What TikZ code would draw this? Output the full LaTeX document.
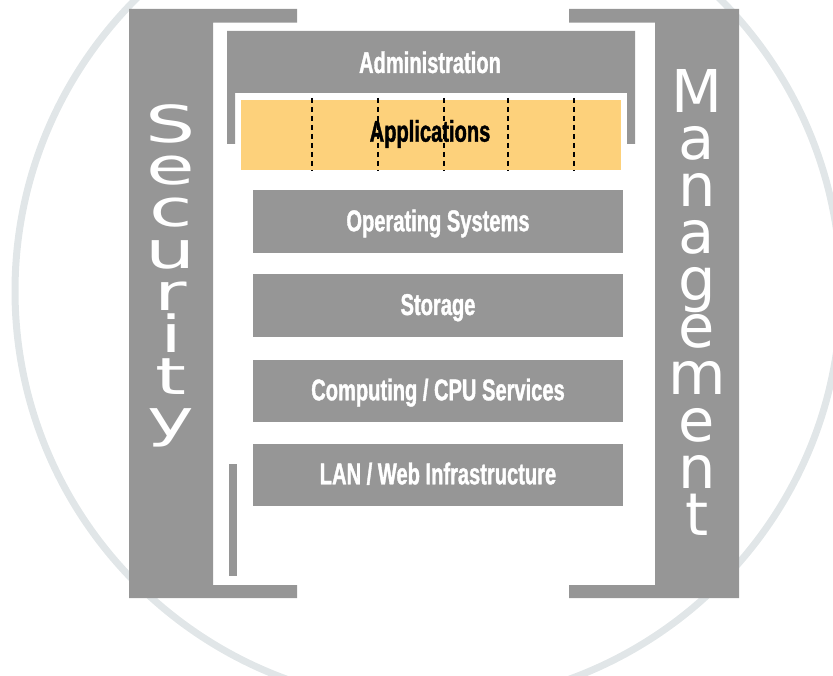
\documentclass[tikz,border=0pt]{standalone}
\usepackage{fontspec}
\newfontfamily\condfont[FakeStretch=0.67,FakeBold=1.2]{Liberation Sans}
\newfontfamily\secfont[FakeStretch=1.55]{DejaVu Sans}
\newfontfamily\mgmtfont{DejaVu Sans}
\definecolor{boxgray}{RGB}{150,150,150}
\definecolor{ringgray}{RGB}{225,230,232}
\definecolor{appyellow}{RGB}{253,209,123}
\begin{document}
\begin{tikzpicture}[x=1pt,y=-1pt,
  labeltext/.style={inner sep=0pt, text=white, font=\condfont\bfseries\fontsize{30}{30}\selectfont},
  layer/.style={fill=boxgray, minimum width=370pt, inner sep=0pt, text=white,
    font=\condfont\bfseries\fontsize{30}{30}\selectfont, text height=19pt, text depth=0pt},
  dashline/.style={black, line width=1.6pt, dash pattern=on 5pt off 4pt},
  secword/.style={anchor=north, inner sep=0pt, align=center, text=white,
    font={\secfont\fontsize{51}{42}\selectfont\lineskiplimit=-100pt}},
  mgmtword/.style={anchor=north, inner sep=0pt, align=center, text=white,
    font={\mgmtfont\fontsize{59}{47}\selectfont\lineskiplimit=-100pt}}]
\useasboundingbox (0,0) rectangle (833,676);
\clip (0,0) rectangle (833,676);
% background ring
\draw[ringgray, line width=7pt] (428,291) circle[radius=413];
% Security bracket
\fill[boxgray] (129,9) -| (297,22.7) -| (213,585) -| (297,598) -| (129,9) -- cycle;
% Management bracket
\fill[boxgray] (739,9) -| (569,22.7) -| (655,585) -| (569,598) -| (739,9) -- cycle;
% Administration U shape
\fill[boxgray] (227,144) -- (227,31) -- (635,31) -- (635,144) -- (627,144) -- (627,93) -- (235,93) -- (235,144) -- cycle;
\node[labeltext, anchor=base] (admin) at (430,73) {Administration};
% Applications
\node[fill=appyellow, minimum width=380pt, minimum height=70pt, inner sep=0pt] (apps) at (431,135) {};
\node[labeltext, anchor=base, text=black] (appstext) at (430,141.7) {Applications};
\foreach \x in {311.7,377.7,443.7,507.7,573.7}
  \draw[dashline] (\x,98) -- (\x,171);
% layers
\node[layer, minimum height=63pt] (os) at (438,221.7) {Operating Systems};
\node[layer, minimum height=63pt] (storage) at (438,305.5) {Storage};
\node[layer, minimum height=62pt] (computing) at (438,390.8) {Computing / CPU Services};
\node[layer, minimum height=62pt] (lan) at (438,474.8) {LAN / Web Infrastructure};
% thin bar
\fill[boxgray] (229,464) rectangle (237.3,576);
% vertical words
\node[secword] (security) at (171,104.2) {S\\e\\c\\u\\r\\i\\t\\y};
\node[mgmtword] (management) at (697,69) {M\\a\\n\\a\\g\\e\\m\\e\\n\\t};
\end{tikzpicture}
\end{document}
